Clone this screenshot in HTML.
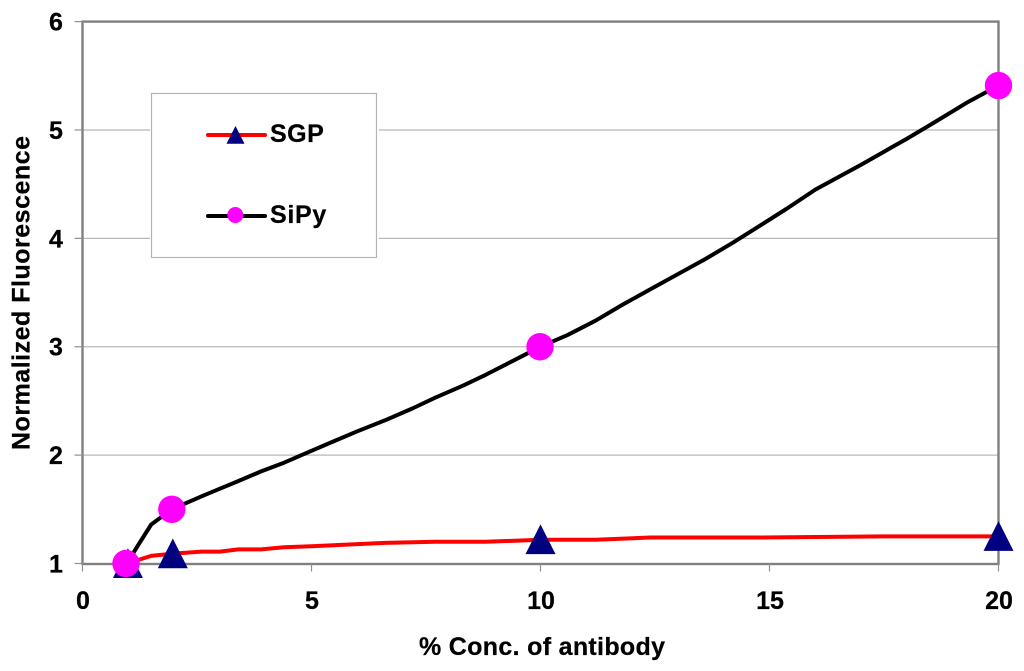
<!DOCTYPE html>
<html>
<head>
<meta charset="utf-8">
<style>
html,body{margin:0;padding:0;background:#fff;width:1024px;height:671px;overflow:hidden}
svg{display:block}
text{font-family:"Liberation Sans",Arial,sans-serif;font-weight:bold;fill:#000;stroke:#000;stroke-width:0.25px}
</style>
</head>
<body>
<svg id="chart" width="1024" height="671" viewBox="0 0 1024 671" xmlns="http://www.w3.org/2000/svg"></svg>
<script>
const xTicks = [0, 5, 10, 15, 20];
const yTicks = [1, 2, 3, 4, 5, 6];
const sipyLineX = [0.97, 1.2, 1.5, 1.95, 2.6, 3, 3.4, 3.9, 4.4, 5, 5.5, 6, 6.6, 7.2, 7.7, 8.3, 8.8, 9.4, 10, 10.6, 11.2, 11.8, 12.4, 13, 13.6, 14.2, 14.8, 15.4, 16, 17, 17.5, 18, 18.6, 19.3, 20];
const sipyLineY = [1, 1.16, 1.36, 1.5, 1.62, 1.69, 1.76, 1.85, 1.93, 2.04, 2.13, 2.22, 2.32, 2.43, 2.53, 2.64, 2.74, 2.87, 3, 3.11, 3.24, 3.39, 3.53, 3.67, 3.81, 3.96, 4.12, 4.28, 4.45, 4.68, 4.8, 4.92, 5.07, 5.25, 5.41];
const sgpLineX = [0.97, 1.5, 1.95, 2.6, 3, 3.4, 3.9, 4.4, 5, 6.6, 7.7, 8.8, 10, 11.2, 12.4, 14.8, 17.5, 20];
const sgpLineY = [1, 1.07, 1.09, 1.11, 1.11, 1.13, 1.13, 1.15, 1.16, 1.19, 1.2, 1.2, 1.22, 1.22, 1.24, 1.24, 1.25, 1.25];
const sipyMarkerX = [0.95, 1.95, 10, 20];
const sipyMarkerY = [1, 1.5, 3, 5.41];
const sgpMarkerX = [0.97, 1.95, 10, 20];
const sgpMarkerY = [1, 1.09, 1.22, 1.25];

const NS = 'http://www.w3.org/2000/svg';
const svg = document.getElementById('chart');
const left = 82.5, right = 998.5, top_ = 21.6, bottom = 563.5;
const xScale = v => left + (v - 0) / 20 * (right - left);
const yScale = v => bottom - (v - 1) / 5 * (bottom - top_);

function make(tag, attrs, text) {
  const el = document.createElementNS(NS, tag);
  for (const k in attrs) el.setAttribute(k, attrs[k]);
  if (text !== undefined) el.textContent = text;
  svg.appendChild(el);
  return el;
}
function pathOf(xs, ys) {
  return xs.map((x, i) => (i ? 'L' : 'M') + xScale(x).toFixed(1) + ' ' + yScale(ys[i]).toFixed(1)).join(' ');
}
function triPoints(cx, cy, w, up, down) {
  return (cx - w / 2) + ',' + (cy + down) + ' ' + (cx + w / 2) + ',' + (cy + down) + ' ' + cx + ',' + (cy - up);
}

// grid lines
yTicks.forEach(v => {
  if (v === 1 || v === 6) return;
  const g = make('line', {x1: left, x2: right, y1: yScale(v), y2: yScale(v), stroke: '#b8b8b8', 'stroke-width': 1.2});
  
  
});

// plot frame
const frame = make('rect', {x: left, y: top_, width: right - left, height: bottom + 0.5 - top_, fill: 'none', stroke: '#808080', 'stroke-width': 2.4});



// y ticks and labels
yTicks.forEach(v => {
  const t = make('line', {x1: left - 8, x2: left, y1: yScale(v), y2: yScale(v), stroke: '#909090', 'stroke-width': 1.2});
  
  
  const l = make('text', {x: 56, y: yScale(v) + 9, 'text-anchor': 'middle', 'font-size': 25}, String(v));
  
  
});

// x ticks and labels
xTicks.forEach(v => {
  const t = make('line', {x1: xScale(v), x2: xScale(v), y1: bottom, y2: bottom + 8, stroke: '#909090', 'stroke-width': 1.2});
  
  
  const l = make('text', {x: xScale(v) + 0.5, y: 609, 'text-anchor': 'middle', 'font-size': 25}, String(v));
  
  
});

// series lines
const sgpLine = make('path', {d: pathOf(sgpLineX, sgpLineY), fill: 'none', stroke: '#ff0000', 'stroke-width': 4, 'stroke-linejoin': 'round', 'stroke-linecap': 'round'});


const sipyLine = make('path', {d: pathOf(sipyLineX, sipyLineY), fill: 'none', stroke: '#000000', 'stroke-width': 4, 'stroke-linejoin': 'round', 'stroke-linecap': 'round'});



// markers
sgpMarkerX.forEach((x, i) => {
  const m = make('polygon', {points: triPoints(xScale(x) + (i < 2 ? 1 : 0), yScale(sgpMarkerY[i]), 30, 15.3, 14.5), fill: '#000080'});
  
  
});
sipyMarkerX.forEach((x, i) => {
  const m = make('circle', {cx: xScale(x) - (i === 2 ? 0.5 : 0), cy: yScale(sipyMarkerY[i]), r: 13.7, fill: '#ff00ff'});
  
  
});

// legend
const gap = make('rect', {x: 150, y: 92, width: 229, height: 167, fill: '#ffffff'});


const box = make('rect', {x: 151.5, y: 93.5, width: 225, height: 164, fill: '#ffffff', stroke: '#b4b4b4', 'stroke-width': 1.2});



const lg1 = make('line', {x1: 208, x2: 265, y1: 135, y2: 135, stroke: '#ff0000', 'stroke-width': 4, 'stroke-linecap': 'round'});


const lg1m = make('polygon', {points: triPoints(235.5, 135, 18, 9, 8.7), fill: '#000080'});


const lg1t = make('text', {x: 270, y: 142, 'font-size': 25, 'letter-spacing': 0.5}, 'SGP');



const lg2 = make('line', {x1: 208, x2: 265, y1: 216, y2: 216, stroke: '#000000', 'stroke-width': 4, 'stroke-linecap': 'round'});


const lg2m = make('circle', {cx: 235.3, cy: 215, r: 8, fill: '#ff00ff'});


const lg2t = make('text', {x: 270, y: 223, 'font-size': 25, 'letter-spacing': 0.7}, 'SiPy');



// axis titles
const xTitle = make('text', {x: 542, y: 655, 'text-anchor': 'middle', 'font-size': 25, textLength: 246, lengthAdjust: 'spacing'}, '% Conc. of antibody');


const yTitle = make('text', {x: 0, y: 0, transform: 'translate(29.5,293) rotate(-90)', 'text-anchor': 'middle', 'font-size': 25, textLength: 314, lengthAdjust: 'spacing'}, 'Normalized Fluorescence');


</script>
</body>
</html>
